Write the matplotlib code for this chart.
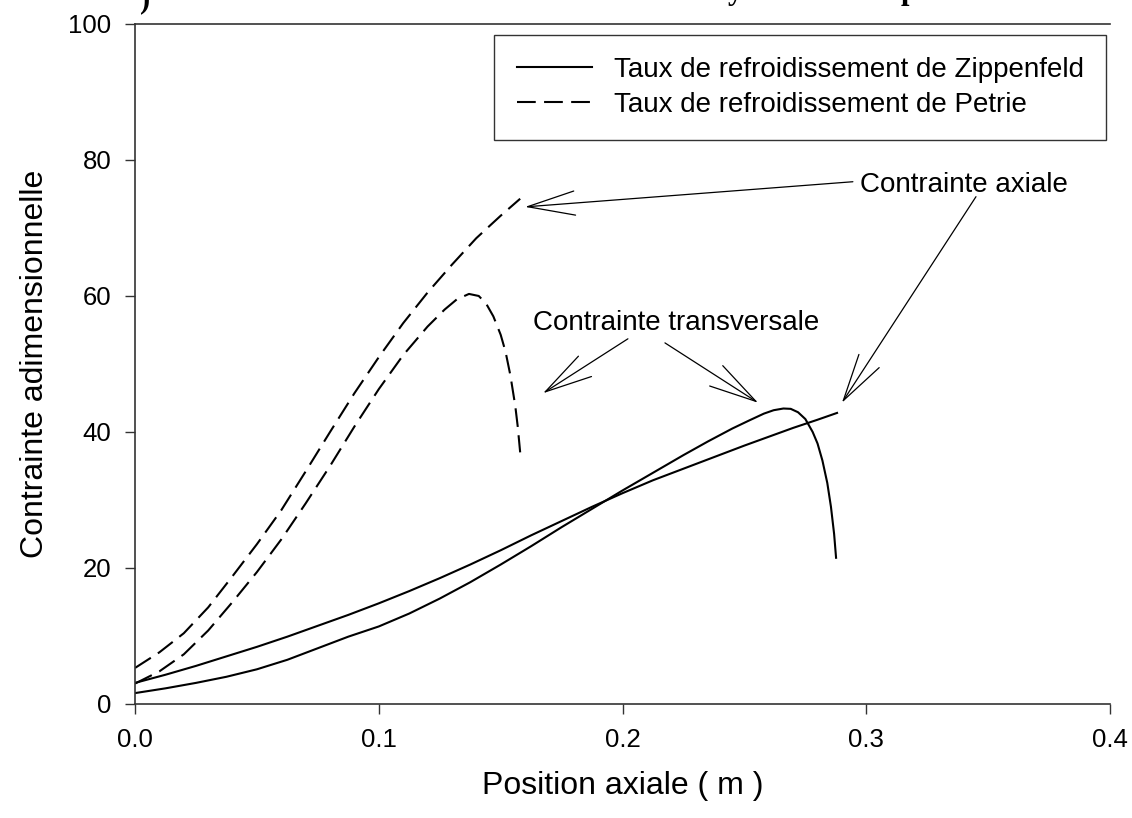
import matplotlib
matplotlib.use("Agg")
import matplotlib.pyplot as plt

plt.rcParams.update({"font.family": "Liberation Sans"})

# Zippenfeld cooling rate (solid)
x_zip_ax = [0, 0.0125, 0.025, 0.0375, 0.05, 0.0625, 0.075, 0.0875, 0.1, 0.1125, 0.125,
            0.1375, 0.15, 0.1625, 0.175, 0.1875, 0.2, 0.2125, 0.225, 0.2375, 0.25, 0.26,
            0.27, 0.28, 0.288]
y_zip_ax = [3.1, 4.3, 5.6, 7.0, 8.4, 9.9, 11.5, 13.1, 14.8, 16.6, 18.5,
            20.5, 22.6, 24.8, 26.9, 29.0, 31.0, 32.9, 34.6, 36.3, 38.0, 39.3,
            40.6, 41.8, 42.8]
x_zip_tr = [0, 0.0125, 0.025, 0.0375, 0.05, 0.0625, 0.075, 0.0875, 0.1, 0.1125, 0.125,
            0.1375, 0.15, 0.1625, 0.175, 0.1875, 0.2, 0.2125, 0.225, 0.235, 0.245, 0.252,
            0.258, 0.262, 0.266, 0.269, 0.272, 0.275, 0.278, 0.28, 0.282, 0.284, 0.2855,
            0.2868, 0.2876]
y_zip_tr = [1.6, 2.3, 3.1, 4.0, 5.1, 6.5, 8.2, 9.9, 11.4, 13.3, 15.5,
            17.9, 20.5, 23.2, 26.0, 28.7, 31.4, 34.0, 36.6, 38.6, 40.5, 41.7,
            42.7, 43.2, 43.45, 43.4, 42.9, 41.9, 40.0, 38.3, 35.8, 32.5, 29.0,
            25.0, 21.5]

# Petrie cooling rate (dashed)
x_pet_ax = [0, 0.01, 0.02, 0.03, 0.04, 0.05, 0.06, 0.07, 0.08, 0.09, 0.1, 0.11, 0.12,
            0.13, 0.14, 0.15, 0.158]
y_pet_ax = [5.3, 7.6, 10.4, 14.2, 18.8, 23.5, 28.5, 34.2, 40.0, 45.7, 51.0, 56.0, 60.5,
            64.6, 68.5, 71.8, 74.3]
x_pet_tr = [0, 0.01, 0.02, 0.03, 0.04, 0.05, 0.06, 0.07, 0.08, 0.09, 0.1, 0.11, 0.12,
            0.127, 0.132, 0.137, 0.141, 0.144, 0.147, 0.15, 0.152, 0.154, 0.156, 0.157,
            0.158]
y_pet_tr = [3.0, 4.8, 7.3, 10.8, 15.0, 19.4, 24.2, 29.5, 35.0, 40.8, 46.3, 51.3, 55.5,
            58.0, 59.5, 60.3, 60.0, 58.9, 57.0, 54.3, 51.8, 48.3, 43.8, 40.8,
            37.0]

# arrow start / arrow tip in data units
arrows_axial = [((0.2945, 76.8), (0.1600, 73.1)), ((0.3450, 74.6), (0.2900, 44.3))]
arrows_trans = [((0.2022, 53.7), (0.1674, 45.7)), ((0.2174, 53.1), (0.2556, 44.3))]

fig = plt.figure(figsize=(11.32, 8.18), dpi=100)
ax = fig.add_axes([0.1193, 0.1394, 0.8613, 0.8313])

dash = (0, (9, 4))
ax.plot(x_zip_ax, y_zip_ax, color="black", lw=1.5, label="Taux de refroidissement de Zippenfeld")
ax.plot(x_zip_tr, y_zip_tr, color="black", lw=1.5)
ax.plot(x_pet_ax, y_pet_ax, color="black", lw=1.5, ls=dash, label="Taux de refroidissement de Petrie")
ax.plot(x_pet_tr, y_pet_tr, color="black", lw=1.5, ls=dash)

ax.set_xlim(0, 0.4)
ax.set_ylim(0, 100)
ax.set_xticks([0, 0.1, 0.2, 0.3, 0.4])
ax.set_xticklabels(["0.0", "0.1", "0.2", "0.3", "0.4"])
ax.set_yticks([0, 20, 40, 60, 80, 100])
ax.tick_params(direction="out", length=7, width=1, pad=10, labelsize=18.5, colors="#333333",
               labelcolor="black")
for s in ["left", "bottom", "top"]:
    ax.spines[s].set_color("#333333")
    ax.spines[s].set_linewidth(1.2)
ax.spines["right"].set_visible(False)

ax.set_xlabel("Position axiale ( m )", fontsize=23)
ax.set_ylabel("Contrainte adimensionnelle", fontsize=23)
ax.xaxis.set_label_coords(0.5, -0.121)
ax.xaxis.label.set_va("center")
ax.yaxis.set_label_coords(-0.1026, 0.5)
ax.yaxis.label.set_va("center")

leg = ax.legend(loc="upper right", bbox_to_anchor=(0.9959, 0.9838), borderaxespad=0,
                fontsize=20, frameon=True, fancybox=False, handlelength=2.7,
                handletextpad=0.8, labelspacing=0.32, borderpad=0.8)
leg.get_frame().set_edgecolor("black")
leg.get_frame().set_linewidth(1.0)

ax.text(0.2974, 75.3, "Contrainte axiale", fontsize=20, va="baseline", ha="left")
ax.text(0.1633, 55.0, "Contrainte transversale", fontsize=20, va="baseline", ha="left")

head = dict(arrowstyle="->,head_length=3.4,head_width=0.87", mutation_scale=10,
            lw=0.9, color="black", shrinkA=0, shrinkB=0)
for start, tip in arrows_axial + arrows_trans:
    ax.annotate("", xy=tip, xytext=start, arrowprops=head)

# tail ends of the heading line, cut by the top edge
serif = dict(family="Liberation Serif", weight="bold", fontsize=22, va="baseline")
fig.text(145 / 1132, 1 - 7 / 818, ")", ha="center", **serif)
fig.text(735 / 1132, 1 + 1 / 818, "y", ha="center", **serif)
fig.text(909 / 1132, 1 + 1 / 818, "p", ha="center", **serif)

fig.savefig("out.png", dpi=100)
